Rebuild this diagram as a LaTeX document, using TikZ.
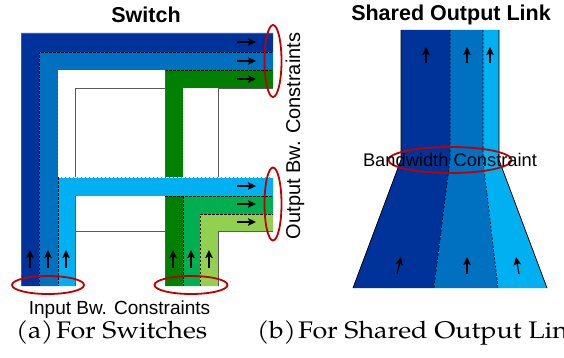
\documentclass[tikz,border=0pt]{standalone}
\usepackage{fontspec}
\newfontfamily\arialf{Liberation Sans}
\newfontfamily\palf{TeX Gyre Pagella}
\usetikzlibrary{arrows.meta}
\definecolor{dblue}{HTML}{003399}
\definecolor{mblue}{HTML}{0070C0}
\definecolor{lblue}{HTML}{00B0F0}
\definecolor{dgreen}{HTML}{008000}
\definecolor{mgreen}{HTML}{00B050}
\definecolor{lgreen}{HTML}{92D050}
\definecolor{ered}{HTML}{C00000}
\definecolor{edgegray}{HTML}{5A5A5A}
\begin{document}
\begin{tikzpicture}[x=1pt,y=-1pt,
  dsh/.style={black, line width=0.6pt, dash pattern=on 2.5pt off 1.5pt},
  wdsh/.style={white, line width=0.8pt, dash pattern=on 2.5pt off 1.5pt},
  solidg/.style={edgegray, line width=0.9pt},
  outl/.style={black, line width=0.8pt},
  flow/.style={line width=1.2pt, -{Stealth[length=8pt,width=7.5pt,inset=1.5pt]}},
  ring/.style={draw=ered, line width=1.8pt},
  sanslbl/.style={font=\arialf\fontsize{19}{22}\selectfont, inner sep=0pt, anchor=base},
  titlelbl/.style={font=\arialf\bfseries\fontsize{21.5}{25}\selectfont, inner sep=0pt, anchor=base},
  caplbl/.style={font=\palf\fontsize{24}{28}\selectfont, inner sep=0pt, anchor=base west}
]
\useasboundingbox (0,0) rectangle (564,358);

% ---------------- Switch ----------------
\fill[dblue] (21,33) -- (273,33) -- (273,52) -- (39,52) -- (39,286) -- (21,286) -- cycle;
\draw[solidg] (21,286) -- (21,33) -- (273,33);
\fill[mblue] (39,52) -- (273,52) -- (273,70) -- (58,70) -- (58,286) -- (39,286) -- cycle;
\draw[dsh] (39,286) -- (39,52) -- (273,52);
\draw[solidg] (165,88) -- (75,88) -- (75,177);
\draw[wdsh] (58,177) -- (58,70) -- (165,70);
\fill[dgreen] (165,70) -- (273,70) -- (273,88) -- (183,88) -- (183,286) -- (165,286) -- cycle;
\draw[dsh] (165,70) -- (273,70);
\draw[solidg] (165,70) -- (165,177);
\draw[solidg] (165,196) -- (165,286);
\draw[wdsh] (183,177) -- (183,88) -- (218,88);
\draw[solidg] (218,177) -- (218,88) -- (273,88);
\fill[lblue] (58,177) -- (273,177) -- (273,196) -- (75,196) -- (75,286) -- (58,286) -- cycle;
\draw[wdsh] (58,177) -- (273,177);
\draw[dsh] (58,177) -- (58,286);
\draw[wdsh] (75,196) -- (165,196);
\draw[solidg] (75,196) -- (75,286);
\fill[mgreen] (183,196) -- (273,196) -- (273,214) -- (200,214) -- (200,286) -- (183,286) -- cycle;
\draw[dsh] (165,196) -- (273,196);
\draw[dsh] (183,196) -- (183,286);
\fill[lgreen] (200,214) -- (273,214) -- (273,231) -- (218,231) -- (218,286) -- (200,286) -- cycle;
\draw[dsh] (200,286) -- (200,214) -- (273,214);
\draw[solidg] (218,286) -- (218,231) -- (273,231);
\draw[solidg] (75,231) -- (165,231);

\foreach \y in {42,61,79,186,204,222} \draw[flow] (237,\y) -- (256,\y);
\foreach \x in {30,48,66,173,191,209} \draw[flow] (\x,268) -- (\x,250);

\draw[ring] (273,61) ellipse [x radius=8.5pt, y radius=36pt];
\draw[ring] (273,204) ellipse [x radius=8.5pt, y radius=36.5pt];
\draw[ring] (48,285) ellipse [x radius=36pt, y radius=9pt];
\draw[ring] (191,285) ellipse [x radius=36.5pt, y radius=9pt];

\node[titlelbl] (swtitle) at (146,23) {Switch};
\node[sanslbl] (inlbl) at (119.5,314) {Input Bw. Constraints};
\node[rotate=90, font=\arialf\fontsize{20}{24}\selectfont, inner sep=0pt] (outlbl) at (295,136) {Output Bw. Constraints};

% ---------------- Shared output link ----------------
\fill[dblue] (401,30) -- (450,30) -- (450,160) -- (434,288) -- (353,288) -- (401,160) -- cycle;
\fill[mblue] (450,30) -- (483,30) -- (483,160) -- (498,288) -- (434,288) -- (450,160) -- cycle;
\fill[lblue] (483,30) -- (499,30) -- (499,160) -- (547,288) -- (498,288) -- (483,160) -- cycle;
\draw[dsh] (450,30) -- (450,160) -- (434,288);
\draw[dsh] (483,30) -- (483,160) -- (498,288);
\draw[outl] (401,30) -- (401,160) -- (353,288);
\draw[outl] (499,30) -- (499,160) -- (547,288);

\draw[flow] (426,63) -- (426,47);
\draw[flow] (467,63) -- (467,47);
\draw[flow] (490,63) -- (490,47);
\draw[flow] (397,274) -- (401,257);
\draw[flow] (467,274) -- (467,257);
\draw[flow] (519,274) -- (516,257);

\draw[ring] (450,160) ellipse [x radius=61.5pt, y radius=13pt];
\node[font=\arialf\fontsize{18.3}{22}\selectfont, inner sep=0pt, anchor=base] (bwlbl) at (450,166) {Bandwidth Constraint};
\node[titlelbl] (sltitle) at (451,21) {Shared Output Link};

% ---------------- captions ----------------
\node[caplbl] (capa) at (16,338) {\scalebox{1.1}[1]{(a)}};
\node[caplbl] (capat) at (56,338) {\scalebox{1.12}[1]{For Switches}};
\node[caplbl] (capb) at (257,338) {\scalebox{1.1}[1]{(b)}};
\node[caplbl] (capbt) at (298,338) {\scalebox{1.12}[1]{For Shared Output Link}};
\end{tikzpicture}
\end{document}
